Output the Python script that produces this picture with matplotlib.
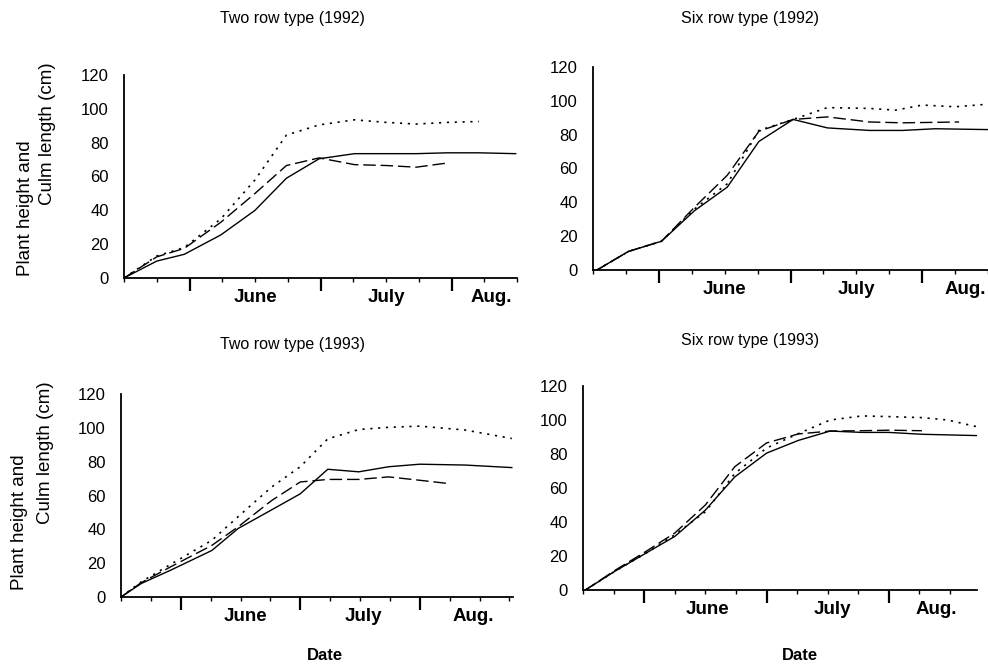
import matplotlib
matplotlib.use("Agg")
import matplotlib.pyplot as plt
from matplotlib.ticker import MultipleLocator

plt.rcParams["font.family"] = ["Liberation Sans", "DejaVu Sans"]

# x axis in "month" units: 0.5 = start of June, 1.5 = July, 2.5 = Aug.
MONTHS = ["June", "July", "Aug."]

# --- Two row type (1992)
tl_solid_x = [0, 0.25, 0.46, 0.74, 1.0, 1.24, 1.49, 1.76, 2.0, 2.23, 2.47, 2.71, 2.99]
tl_solid_y = [0, 10, 14, 25.5, 40, 59, 70.5, 73.5, 73.5, 73.5, 74, 74, 73.5]
tl_dash_x = [0, 0.25, 0.46, 0.74, 1.0, 1.24, 1.49, 1.76, 2.0, 2.23, 2.47]
tl_dash_y = [0, 12.5, 17.5, 33, 50, 66.5, 71, 67, 66.5, 65.5, 68]
tl_dot_x = [0, 0.25, 0.46, 0.74, 1.0, 1.24, 1.49, 1.76, 2.0, 2.23, 2.47, 2.71]
tl_dot_y = [0, 13, 18, 35, 58, 84.5, 90.5, 93.5, 92, 91, 92, 92.5]
tl_month_x = [1.0, 2.0, 2.8]

# --- Six row type (1992)
tr_solid_x = [0.03, 0.27, 0.52, 0.77, 1.02, 1.26, 1.52, 1.78, 2.1, 2.35, 2.6, 3.0]
tr_solid_y = [0, 11, 17, 35, 49, 76, 89, 84, 82.5, 82.5, 83.5, 83]
tr_dash_x = [0.03, 0.27, 0.52, 0.77, 1.02, 1.26, 1.52, 1.78, 2.1, 2.35, 2.78]
tr_dash_y = [0, 11, 17, 37, 56, 82, 89, 90.5, 87.5, 87, 87.5]
tr_dot_x = [0.03, 0.27, 0.52, 0.77, 1.02, 1.26, 1.52, 1.78, 2.1, 2.3, 2.5, 2.75, 3.0]
tr_dot_y = [0, 11, 17, 36, 51, 82.5, 89, 96, 95.5, 94.5, 97.5, 96.5, 98]
tr_month_x = [1.0, 2.0, 2.83]

# --- Two row type (1993)
bl_solid_x = [0, 0.17, 0.42, 0.76, 0.98, 1.26, 1.5, 1.73, 1.99, 2.24, 2.5, 2.88, 3.27]
bl_solid_y = [0, 8, 16, 27.5, 40.5, 51.5, 61, 75.5, 74, 77, 78.5, 78, 76.5]
bl_dash_x = [0, 0.17, 0.42, 0.76, 0.98, 1.26, 1.5, 1.73, 1.99, 2.24, 2.5, 2.75]
bl_dash_y = [0, 8.5, 18, 30.5, 41.5, 57, 68, 69.5, 69.5, 71, 69, 67]
bl_dot_x = [0, 0.17, 0.42, 0.76, 0.98, 1.26, 1.5, 1.73, 1.99, 2.24, 2.5, 2.88, 3.27]
bl_dot_y = [0, 9, 19.5, 33.5, 47.5, 65, 77, 93.5, 99, 100.3, 101, 98.7, 93.7]
bl_month_x = [1.04, 2.03, 2.95]

# --- Six row type (1993)
br_solid_x = [0.02, 0.26, 0.51, 0.75, 1.0, 1.24, 1.5, 1.76, 2.02, 2.28, 2.5, 2.77, 3.24]
br_solid_y = [0, 11, 21.5, 31.5, 47, 66.5, 80.5, 88, 93.5, 92.7, 92.7, 91.6, 90.8]
br_dash_x = [0.02, 0.26, 0.51, 0.75, 1.0, 1.24, 1.5, 1.76, 2.02, 2.28, 2.5, 2.77]
br_dash_y = [0, 11.5, 22.5, 33.5, 50, 72.5, 86.5, 91.8, 93.5, 93.7, 94, 93.7]
br_dot_x = [0.02, 0.26, 0.51, 0.75, 1.0, 1.24, 1.5, 1.76, 2.02, 2.28, 2.5, 2.77, 2.98, 3.24]
br_dot_y = [0, 11, 21.5, 32.5, 46, 68.5, 83.5, 92, 100, 102.4, 102, 101.4, 100, 95.7]
br_month_x = [1.02, 2.04, 2.89]

W, H = 988, 667


def px_rect(left, right, bottom, top):
    return [left / W, 1 - bottom / H, (right - left) / W, (bottom - top) / H]


def draw_panel(fig, rect, xmax, series, month_x):
    ax = fig.add_axes(rect)
    (sx, sy), (dx, dy), (ox, oy) = series
    ax.plot(sx, sy, color="black", lw=1.0, solid_joinstyle="round")
    ax.plot(dx, dy, color="black", lw=1.0, dashes=(9, 3.5))
    ax.plot(ox, oy, color="black", lw=1.2, dashes=(1.3, 3.4))

    ax.set_xlim(0, xmax)
    ax.set_ylim(0, 120)
    ax.set_yticks(range(0, 121, 20))
    ax.tick_params(axis="y", length=0, pad=11, labelsize=12)

    ax.set_xticks([0.5, 1.5, 2.5])
    ax.xaxis.set_minor_locator(MultipleLocator(0.25))
    ax.tick_params(axis="x", which="major", length=9, width=1.6, labelbottom=False)
    ax.tick_params(axis="x", which="minor", length=3, width=1.0)

    for side in ("top", "right"):
        ax.spines[side].set_visible(False)
    for side in ("left", "bottom"):
        ax.spines[side].set_linewidth(1.3)

    for mx, name in zip(month_x, MONTHS):
        ax.annotate(name, xy=(mx, 0), xycoords=("data", "axes fraction"),
                    xytext=(0, -14), textcoords="offset points",
                    ha="center", va="center", fontsize=13.5, fontweight="bold")
    return ax


fig = plt.figure(figsize=(W / 100, H / 100), dpi=100)

draw_panel(fig, px_rect(124, 517, 278, 75), 3.0,
           [(tl_solid_x, tl_solid_y), (tl_dash_x, tl_dash_y), (tl_dot_x, tl_dot_y)], tl_month_x)
draw_panel(fig, px_rect(593, 988, 270, 67), 3.0,
           [(tr_solid_x, tr_solid_y), (tr_dash_x, tr_dash_y), (tr_dot_x, tr_dot_y)], tr_month_x)
draw_panel(fig, px_rect(121, 513, 597, 394), 3.28,
           [(bl_solid_x, bl_solid_y), (bl_dash_x, bl_dash_y), (bl_dot_x, bl_dot_y)], bl_month_x)
draw_panel(fig, px_rect(583, 977, 590, 386), 3.22,
           [(br_solid_x, br_solid_y), (br_dash_x, br_dash_y), (br_dot_x, br_dot_y)], br_month_x)


def fig_text(x, y, s, **kw):
    fig.text(x / W, 1 - y / H, s, ha="center", va="center", **kw)


fig_text(292, 18, "Two row type (1992)", fontsize=11.5)
fig_text(750, 18, "Six row type (1992)", fontsize=11.5)
fig_text(292, 345, "Two row type (1993)", fontsize=11.5)
fig_text(750, 340, "Six row type (1993)", fontsize=11.5)

fig_text(325, 655, "Date", fontsize=12, fontweight="bold")
fig_text(800, 655, "Date", fontsize=12, fontweight="bold")

# two-line y label, lines drawn separately as in the original
fig_text(25, 208, "Plant height and", fontsize=13.5, rotation=90)
fig_text(47, 134, "Culm length (cm)", fontsize=13.5, rotation=90)
fig_text(19, 522, "Plant height and", fontsize=13.5, rotation=90)
fig_text(46, 453, "Culm length (cm)", fontsize=13.5, rotation=90)

fig.savefig("out.png", dpi=100)
